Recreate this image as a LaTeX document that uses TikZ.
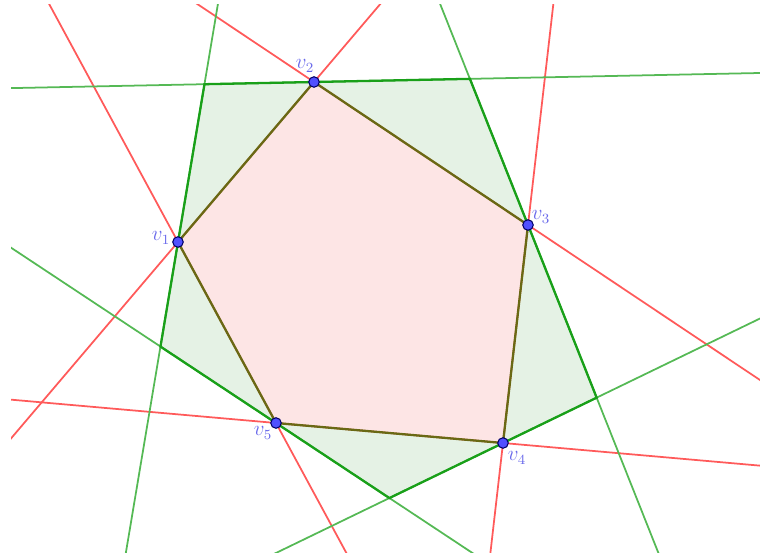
\documentclass[tikz,border=0pt]{standalone}
\usepackage{amsmath}
\usepackage{tikz}
\usetikzlibrary{calc}
\definecolor{lnred}{RGB}{255,90,90}
\definecolor{lngreen}{RGB}{85,185,85}
\definecolor{dkgreen}{RGB}{25,160,25}
\definecolor{edgeolive}{RGB}{105,105,20}
\definecolor{ptblue}{RGB}{80,80,255}
\definecolor{lblblue}{RGB}{105,105,235}
\definecolor{fgreen}{RGB}{229,242,229}
\definecolor{fpink}{RGB}{253,229,229}

\begin{document}
\begin{tikzpicture}[x=0.02cm,y=-0.02cm,
   redln/.style={lnred,line width=1pt},
   grnln/.style={lngreen,line width=1pt},
   grnedge/.style={dkgreen,line width=1.3pt},
   pentedge/.style={edgeolive,line width=1.3pt},
   vtx/.style={circle,draw=black!60!blue,fill=ptblue,line width=0.6pt,inner sep=0pt,minimum size=6pt},
   lbl/.style={text=lblblue,font=\large}]
\useasboundingbox (0,0) rectangle (760,557);
% pentagon vertices
\coordinate (v1) at (178,242);
\coordinate (v2) at (314,82);
\coordinate (v3) at (528,225);
\coordinate (v4) at (503,443);
\coordinate (v5) at (276,423);
% second points of the green lines
\coordinate (g1) at (126,552);
\coordinate (g2) at (760,73);
\coordinate (g3) at (658,552);
\coordinate (g4) at (278,552);
\coordinate (g5) at (10,247);
% corners of the outer polygon
\coordinate (c12) at (intersection of v1--g1 and v2--g2);
\coordinate (c23) at (intersection of v2--g2 and v3--g3);
\coordinate (c34) at (intersection of v3--g3 and v4--g4);
\coordinate (c45) at (intersection of v4--g4 and v5--g5);
\coordinate (c51) at (intersection of v5--g5 and v1--g1);

\fill[fgreen] (c12) -- (c23) -- (c34) -- (c45) -- (c51) -- cycle;
\fill[fpink] (v1) -- (v2) -- (v3) -- (v4) -- (v5) -- cycle;

\begin{scope}
\clip (11,5) rectangle (760,552);
\foreach \a/\b in {v1/v2,v2/v3,v3/v4,v4/v5,v5/v1} {
   \draw[redln] ($(\a)!-4!(\b)$) -- ($(\b)!-4!(\a)$);
}
\foreach \i in {1,...,5} {
   \draw[grnln] ($(v\i)!-4!(g\i)$) -- ($(g\i)!-4!(v\i)$);
}
\end{scope}

\draw[grnedge] (c12) -- (c23) -- (c34) -- (c45) -- (c51) -- cycle;
\draw[pentedge] (v1) -- (v2) -- (v3) -- (v4) -- (v5) -- cycle;

\foreach \i in {1,...,5} {
   \node[vtx] (n\i) at (v\i) {};
}
\node[lbl] (l1) at (161,238) {$v_1$};
\node[lbl] (l2) at (305,66) {$v_2$};
\node[lbl] (l3) at (541,217) {$v_3$};
\node[lbl] (l4) at (517,458) {$v_4$};
\node[lbl] (l5) at (263,433) {$v_5$};
\end{tikzpicture}
\end{document}
